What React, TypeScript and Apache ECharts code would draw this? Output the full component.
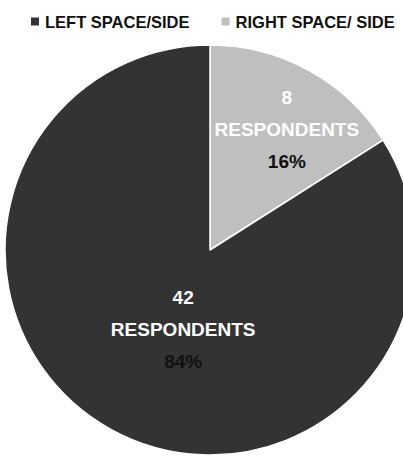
import React, { useEffect, useRef } from "react";
import * as echarts from "echarts";

const categories = ["RIGHT SPACE/ SIDE", "LEFT SPACE/SIDE"];
const respondents = [8, 42];
const percents = ["16%", "84%"];
const legendOrder = ["LEFT SPACE/SIDE", "RIGHT SPACE/ SIDE"];
const colors = ["#bfbfbf", "#333333"];

const FONT = "'Liberation Sans', Arial, sans-serif";

export default function App() {
  const ref = useRef<HTMLDivElement>(null);
  useEffect(() => {
    if (!ref.current) return;
    const chart = echarts.init(ref.current, null, { renderer: "svg" });
    const offsets = [
      [26, -28],
      [24, -13],
    ];
    chart.setOption({
      animation: false,
      backgroundColor: "#ffffff",
      legend: {
        data: legendOrder,
        top: 8,
        left: 24,
        width: 400,
        itemWidth: 10,
        itemHeight: 10,
        itemGap: 30,
        icon: "rect",
        textStyle: {
          fontFamily: FONT,
          fontWeight: "bold",
          fontSize: 16.5,
          color: "#111111",
        },
      },
      series: [
        {
          type: "pie",
          center: [210, 250],
          radius: 205,
          startAngle: 90,
          clockwise: true,
          legendHoverLink: false,
          itemStyle: { borderColor: "#ffffff", borderWidth: 1.5 },
          label: {
            show: true,
            position: "inside",
            lineHeight: 32,
            rich: {
              w: {
                color: "#ffffff",
                fontFamily: FONT,
                fontWeight: "bold",
                fontSize: 19,
                lineHeight: 32,
              },
              b: {
                color: "#111111",
                fontFamily: FONT,
                fontWeight: "bold",
                fontSize: 19,
                lineHeight: 32,
              },
            },
          },
          data: categories.map((name, i) => ({
            name,
            value: respondents[i],
            itemStyle: { color: colors[i] },
            label: {
              offset: offsets[i],
              formatter: `{w|${respondents[i]}}\n{w|RESPONDENTS}\n{b|${percents[i]}}`,
            },
          })),
        },
      ],
    });
    return () => chart.dispose();
  }, []);
  return (
    <div
      ref={ref}
      style={{ position: "fixed", left: 0, top: 0, width: 403, height: 456 }}
    />
  );
}
